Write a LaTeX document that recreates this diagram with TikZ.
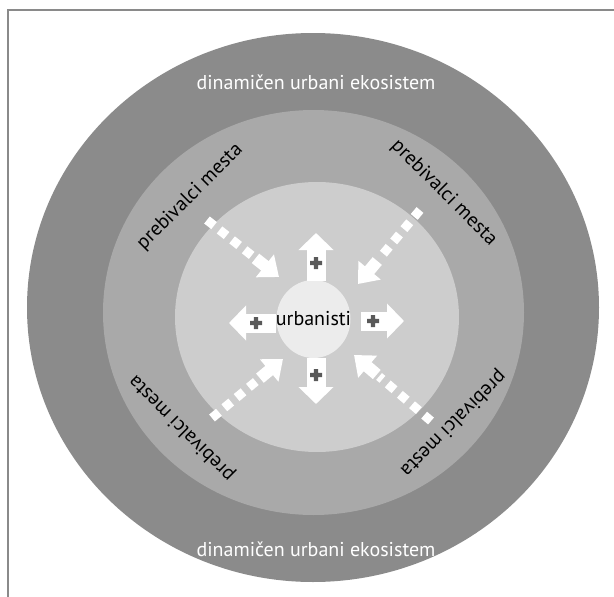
\documentclass[tikz,border=0pt]{standalone}
\usepackage{fontspec}
\newfontfamily\labelfont{PT Sans}
\usetikzlibrary{positioning,arrows.meta,shapes.geometric,calc}
\definecolor{ecogray}{HTML}{8B8B8B}
\definecolor{citygray}{HTML}{A9A9A9}
\definecolor{plangray}{HTML}{CDCDCD}
\definecolor{coregray}{HTML}{ECECEC}
\definecolor{plusgray}{HTML}{595959}
\definecolor{framegray}{HTML}{8A8A8A}

\begin{document}
\begin{tikzpicture}[x=1pt, y=-1pt,
		ringtext/.style={font=\labelfont\fontsize{20}{24}\selectfont, inner sep=0pt},
		blockarrow/.style={white, line width=19pt, -{Triangle[width=34pt,length=17pt]}},
		dotline/.style={white, line width=9pt, dash pattern=on 9pt off 7pt},
		dothead/.style={white, line width=12pt, -{Triangle[width=28pt,length=18pt]}}
		]
		\useasboundingbox (0,0) rectangle (614,597);
		\draw[framegray, line width=1.2pt] (8,597) -- (8,10) -- (614,10);
		\fill[ecogray] (313,307.5) ellipse [x radius=286, y radius=274.5];
		\fill[citygray] (313.5,312.5) ellipse [x radius=210.5, y radius=202.5];
		\fill[plangray] (317,317) ellipse [x radius=142, y radius=135];
		\node[ellipse, fill=coregray, minimum width=74pt, minimum height=78pt, ringtext] (urb) at (313.5,319) {\makebox[0pt]{urbanisti}};
		
		\node[ringtext, text=white] (ecoTop) at (316,82) {dinamičen urbani ekosistem};
		\node[ringtext, text=white] (ecoBottom) at (316,549) {dinamičen urbani ekosistem};
		\node[ringtext, rotate=45] (cityUL) at (190,197) {prebivalci mesta};
		\node[ringtext, rotate=-45] (cityUR) at (444,193) {prebivalci mesta};
		\node[ringtext, rotate=135] (cityLL) at (182,428) {prebivalci mesta};
		\node[ringtext, rotate=-135] (cityLR) at (453,423) {prebivalci mesta};
		
		\coordinate (upTail) at (316,281);   \coordinate (upTip) at (316,233);
		\coordinate (downTail) at (316,358); \coordinate (downTip) at (316,404);
		\coordinate (leftTail) at (276,323); \coordinate (leftTip) at (229,323);
		\coordinate (rightTail) at (361,321); \coordinate (rightTip) at (404,321);
		\foreach \q in {up,down,left,right}
		\draw[blockarrow] (\q Tail) -- (\q Tip);
		\foreach \p in {(316,263),(316,375),(256,323),(373,321)}
		\fill[plusgray] \p ++(-6,-2.2) rectangle ++(12,4.4) \p ++(-2.2,-6) rectangle ++(4.4,12);
		
		\coordinate (ulFoot) at (207,220); \coordinate (ulTip) at (279,277);
		\coordinate (urFoot) at (420,210); \coordinate (urTip) at (358,284);
		\coordinate (llFoot) at (212,418); \coordinate (llTip) at (283,359);
		\coordinate (lrFoot) at (431,421); \coordinate (lrTip) at (354,355);
		\foreach \q in {ul,ur,ll,lr}
		{
			\draw[dotline] (\q Foot) -- ($(\q Tip)!33pt!(\q Foot)$);
			\draw[dothead] ($(\q Tip)!30pt!(\q Foot)$) -- (\q Tip);
		}
\end{tikzpicture}
\end{document}
